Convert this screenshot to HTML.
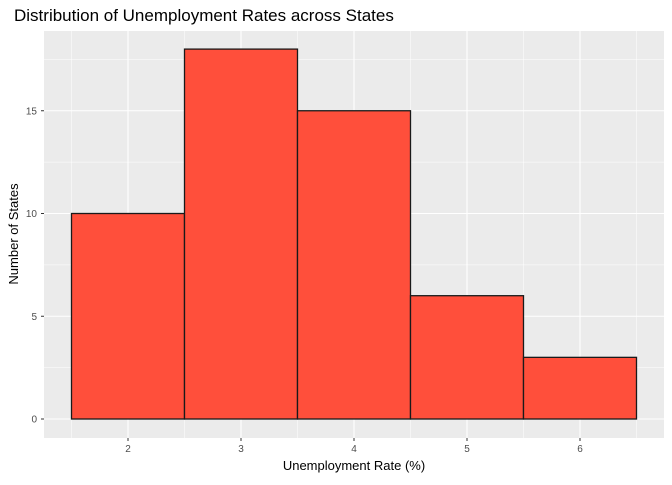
<!DOCTYPE html>
<html><head><meta charset="utf-8"><style>
body{margin:0;background:#fff;font-family:"Liberation Sans",Arial,sans-serif}
</style></head><body>
<svg width="672" height="480" xmlns="http://www.w3.org/2000/svg">
<text x="14" y="21" font-size="17" fill="#000">Distribution of Unemployment Rates across States</text>
<rect x="44" y="31" width="620" height="407" fill="#ebebeb"/>
<g id="grid"></g><g id="bars"></g><g id="axes"></g>
<text x="354" y="470" font-size="13" text-anchor="middle">Unemployment Rate (%)</text>
<text transform="translate(18,234) rotate(-90)" font-size="13" text-anchor="middle">Number of States</text>
</svg>
<script>
const binCenters=[2,3,4,5,6];
const counts=[10,18,15,6,3];
const xTicks=[2,3,4,5,6];
const yTicks=[0,5,10,15];
const NS="http://www.w3.org/2000/svg";
const xs=v=>128+(v-2)*113;
const ys=v=>419-v*20.55;
function mk(tag,attrs,parent){const e=document.createElementNS(NS,tag);for(const k in attrs)e.setAttribute(k,attrs[k]);document.getElementById(parent).appendChild(e);return e;}
for(let i=0;i<xTicks.length;i++){
  const v=xTicks[i];
  const g=mk('line',{x1:xs(v),x2:xs(v),y1:31,y2:438,stroke:'#fff','stroke-width':1.1},'grid');
  
  
  if(i<xTicks.length-1){const m=mk('line',{x1:xs(v+0.5),x2:xs(v+0.5),y1:31,y2:438,stroke:'#fff','stroke-width':0.5},'grid');
  
  }
  const t=mk('text',{x:xs(v),y:452,'font-size':10,fill:'#4d4d4d','text-anchor':'middle'},'axes');t.textContent=v;
  
  
  const tk=mk('line',{x1:xs(v),x2:xs(v),y1:438,y2:441,stroke:'#333'},'axes');
  
  
}
[1.5,6.5].forEach(v=>{const m=mk('line',{x1:xs(v),x2:xs(v),y1:31,y2:438,stroke:'#fff','stroke-width':0.5},'grid');
  
  });
for(let i=0;i<yTicks.length;i++){
  const v=yTicks[i];
  const g=mk('line',{x1:44,x2:664,y1:ys(v),y2:ys(v),stroke:'#fff','stroke-width':1.1},'grid');
  
  
  const m=mk('line',{x1:44,x2:664,y1:ys(v+2.5),y2:ys(v+2.5),stroke:'#fff','stroke-width':0.5},'grid');
  
  
  const t=mk('text',{x:37,y:ys(v)+3.5,'font-size':10,fill:'#4d4d4d','text-anchor':'end'},'axes');t.textContent=v;
  
  
  const tk=mk('line',{x1:41,x2:44,y1:ys(v),y2:ys(v),stroke:'#333'},'axes');
  
  
}
for(let i=0;i<counts.length;i++){
  const c=binCenters[i];
  const r=mk('rect',{x:xs(c-0.5),y:ys(counts[i]),width:xs(c+0.5)-xs(c-0.5),height:ys(0)-ys(counts[i]),fill:'#ff4f3b',stroke:'#1a1a1a','stroke-width':1.3},'bars');
  
  
}
</script>
</body></html>
